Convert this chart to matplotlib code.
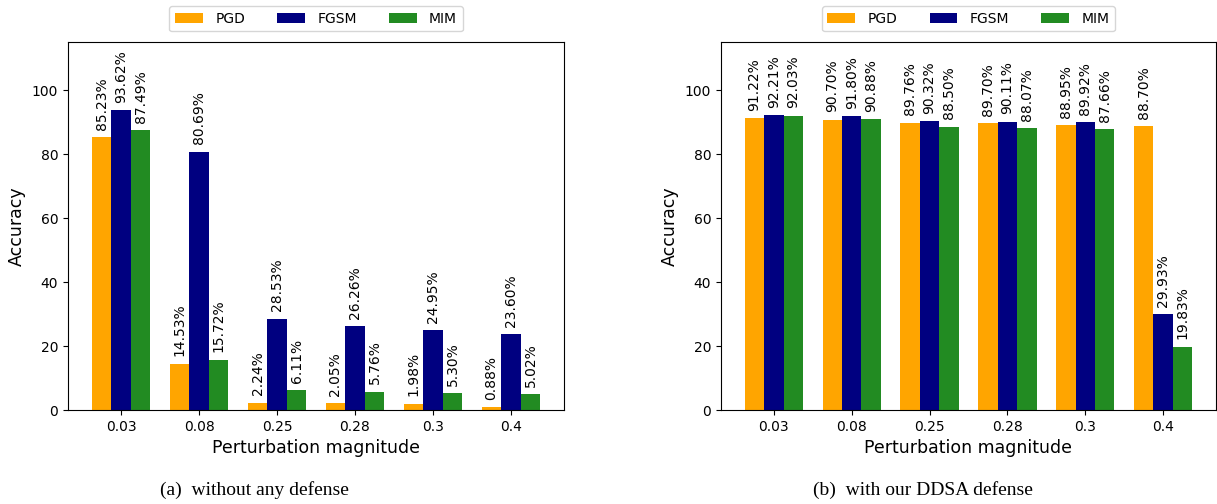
import numpy as np
import matplotlib
matplotlib.use("Agg")
import matplotlib.pyplot as plt

eps = ["0.03", "0.08", "0.25", "0.28", "0.3", "0.4"]

# (a) without any defense
pgd_a = [85.23, 14.53, 2.24, 2.05, 1.98, 0.88]
fgsm_a = [93.62, 80.69, 28.53, 26.26, 24.95, 23.60]
mim_a = [87.49, 15.72, 6.11, 5.76, 5.30, 5.02]

# (b) with our DDSA defense
pgd_b = [91.22, 90.70, 89.76, 89.70, 88.95, 88.70]
fgsm_b = [92.21, 91.80, 90.32, 90.11, 89.92, 29.93]
mim_b = [92.03, 90.88, 88.50, 88.07, 87.66, 19.83]

names = ["PGD", "FGSM", "MIM"]
colors = ["orange", "navy", "forestgreen"]
captions = ["(a)  without any defense", "(b)  with our DDSA defense"]

fig = plt.figure(figsize=(12.17, 5.04), dpi=100)
ax1 = fig.add_axes([68/1217, 1 - 410/504, 496/1217, 368/504])
ax2 = fig.add_axes([721/1217, 1 - 410/504, 495/1217, 368/504])

x = np.arange(len(eps))
w = 0.25

for ax, series in [(ax1, [pgd_a, fgsm_a, mim_a]), (ax2, [pgd_b, fgsm_b, mim_b])]:
    for i, vals in enumerate(series):
        bars = ax.bar(x + (i - 1) * w, vals, w, color=colors[i], label=names[i])
        for b, v in zip(bars, vals):
            ax.text(b.get_x() + b.get_width() / 2, v + 2.3, "%.2f%%" % v,
                    rotation=90, ha="center", va="bottom", fontsize=10)
    ax.set_xticks(x)
    ax.set_xticklabels(eps)
    ax.set_ylim(0, 115)
    ax.set_yticks([0, 20, 40, 60, 80, 100])
    ax.set_xlim(-0.68, 5.68)
    ax.set_xlabel("Perturbation magnitude", fontsize=12.5)
    ax.set_ylabel("Accuracy", fontsize=12.5)
    ax.legend(loc="lower center", bbox_to_anchor=(0.5, 1.01), ncol=3,
              fontsize=10, handlelength=2.0, columnspacing=2.3, handletextpad=0.9)

fig.text(254/1217, 1 - 490/504, captions[0], ha="center", va="center",
         fontsize=14, family="Liberation Serif")
fig.text(923/1217, 1 - 490/504, captions[1], ha="center", va="center",
         fontsize=14, family="Liberation Serif")

fig.savefig("out.png", dpi=100)
